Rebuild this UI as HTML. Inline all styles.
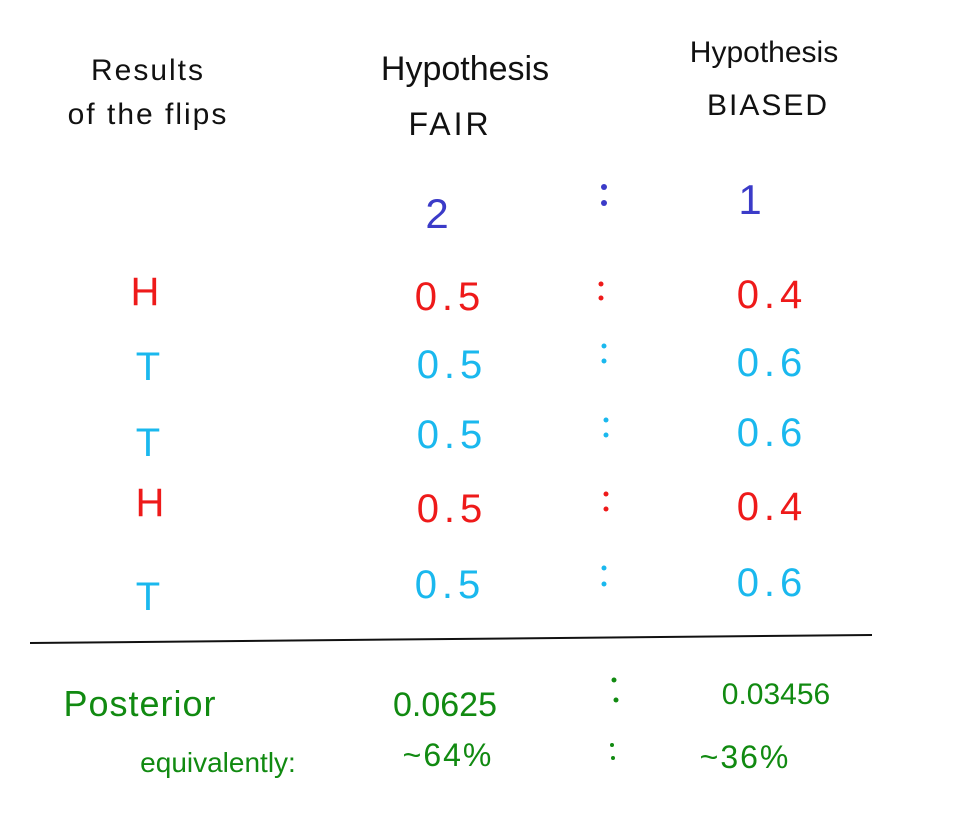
<!DOCTYPE html>
<html><head><meta charset="utf-8"><style>
html,body{margin:0;padding:0;background:#fff;}
svg{display:block;}
text{font-family:"Liberation Sans",sans-serif;}
</style></head><body>
<svg width="980" height="830" viewBox="0 0 980 830">
<g fill="#111" font-size="30">
 <text x="148" y="80" text-anchor="middle" letter-spacing="2">Results</text>
 <text x="148" y="124" text-anchor="middle" letter-spacing="2">of the flips</text>
 <text x="465" y="80" text-anchor="middle" font-size="34">Hypothesis</text>
 <text x="450" y="135" text-anchor="middle" font-size="32" letter-spacing="3">FAIR</text>
 <text x="764" y="62" text-anchor="middle" font-size="30">Hypothesis</text>
 <text x="768" y="115" text-anchor="middle" font-size="30" letter-spacing="2">BIASED</text>
</g>
<g fill="#3b3bc8" font-size="42">
 <text x="437" y="228" text-anchor="middle">2</text>
 <circle cx="604" cy="187" r="3"/><circle cx="604" cy="203" r="3"/>
 <text x="750" y="214" text-anchor="middle">1</text>
</g>
<g font-size="40" text-anchor="middle" letter-spacing="5">
 <g fill="#ee1a1a"><text x="145" y="305" letter-spacing="0">H</text><text x="450" y="310">0.5</text><circle cx="601" cy="284" r="2.5"/><circle cx="601" cy="298" r="2.5"/><text x="772" y="308">0.4</text></g>
 <g fill="#1ab8ee"><text x="148" y="380" letter-spacing="0">T</text><text x="452" y="378">0.5</text><circle cx="604" cy="346" r="2.5"/><circle cx="604" cy="361" r="2.5"/><text x="772" y="376">0.6</text></g>
 <g fill="#1ab8ee"><text x="148" y="456" letter-spacing="0">T</text><text x="452" y="448">0.5</text><circle cx="606" cy="420" r="2.5"/><circle cx="606" cy="435" r="2.5"/><text x="772" y="446">0.6</text></g>
 <g fill="#ee1a1a"><text x="150" y="516" letter-spacing="0">H</text><text x="452" y="522">0.5</text><circle cx="606" cy="494" r="2.5"/><circle cx="606" cy="509" r="2.5"/><text x="772" y="520">0.4</text></g>
 <g fill="#1ab8ee"><text x="148" y="610" letter-spacing="0">T</text><text x="450" y="598">0.5</text><circle cx="604" cy="568" r="2.5"/><circle cx="604" cy="584" r="2.5"/><text x="772" y="596">0.6</text></g>
</g>
<line x1="30" y1="643" x2="872" y2="635" stroke="#111" stroke-width="2"/>
<g fill="#118a11" text-anchor="middle">
 <text x="140" y="716" font-size="36" letter-spacing="1">Posterior</text>
 <text x="445" y="716" font-size="34">0.0625</text>
 <circle cx="614" cy="680" r="2.5"/><circle cx="616" cy="700" r="2.5"/>
 <text x="776" y="704" font-size="30">0.03456</text>
 <text x="218" y="772" font-size="28">equivalently:</text>
 <text x="448" y="766" font-size="32" letter-spacing="2">~64%</text>
 <circle cx="612" cy="745" r="2"/><circle cx="613" cy="758" r="2"/>
 <text x="745" y="768" font-size="32" letter-spacing="2">~36%</text>
</g>
</svg>
</body></html>
